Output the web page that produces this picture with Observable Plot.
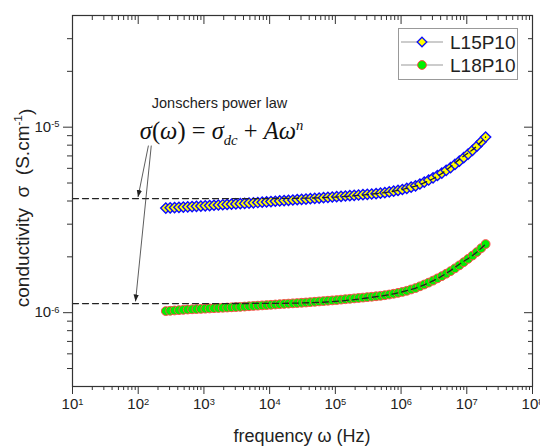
<!DOCTYPE html>
<html><head><meta charset="utf-8">
<script src="https://cdn.jsdelivr.net/npm/d3@7"></script>
<script src="https://cdn.jsdelivr.net/npm/@observablehq/plot@0.6"></script>
<style>body{margin:0;background:#fff}</style>
</head><body><div id="chart"></div>
<script>
// ---- data ----
const freq = [263, 306.6, 357.5, 416.8, 486.0, 566.6, 660.7, 770.3, 898.1, 1047, 1221, 1423, 1660, 1935, 2256,
  2630, 3066, 3575, 4168, 4860, 5666, 6607, 7703, 8981, 10470, 12210, 14230, 16600, 19350, 22560,
  26300, 30660, 35750, 41680, 48600, 56660, 66070, 77030, 89810, 104700, 122100, 142300, 166000, 193500, 225600,
  263000, 306600, 357500, 416800, 486000, 566600, 660700, 770300, 898100, 1047000, 1221000, 1423000, 1660000, 1935000, 2256000,
  2630000, 3066000, 3575000, 4168000, 4860000, 5666000, 6607000, 7703000, 8981000, 10470000, 12210000, 14230000, 16600000, 19350000];
// conductivity in units of 1e-6 S/cm
const sigmaL15 = [3.664,3.675,3.687,3.698,3.710,3.721,3.733,3.744,3.756,3.768,3.781,3.794,3.806,3.819,3.832,
  3.844,3.857,3.870,3.883,3.896,3.910,3.925,3.940,3.956,3.972,3.987,4.003,4.019,4.034,4.050,
  4.066,4.082,4.099,4.116,4.133,4.150,4.168,4.185,4.203,4.220,4.238,4.256,4.273,4.291,4.309,
  4.327,4.345,4.363,4.381,4.406,4.436,4.477,4.519,4.560,4.613,4.677,4.753,4.831,4.940,5.060,
  5.190,5.330,5.490,5.660,5.850,6.060,6.300,6.560,6.850,7.160,7.500,7.900,8.350,8.850];
const sigmaL18 = [1.020,1.024,1.028,1.032,1.036,1.040,1.043,1.046,1.048,1.051,1.054,1.057,1.060,1.063,1.066,
  1.069,1.072,1.075,1.079,1.083,1.087,1.091,1.095,1.099,1.103,1.107,1.111,1.115,1.119,1.123,
  1.127,1.131,1.135,1.140,1.145,1.150,1.155,1.160,1.165,1.170,1.176,1.182,1.188,1.194,1.200,
  1.206,1.213,1.219,1.226,1.233,1.242,1.253,1.265,1.279,1.294,1.312,1.334,1.358,1.387,1.419,
  1.452,1.489,1.531,1.574,1.622,1.675,1.734,1.799,1.871,1.950,2.032,2.123,2.228,2.344];
// Jonscher fit curves (dashed), units 1e-6 S/cm
const fitFreq = [10, 100, 1000, 10000, 30000, 100000, 300000, 1000000, 2000000, 4000000, 8000000, 14000000, 19350000];
const fitL15 = [4.12, 4.12, 4.12, 4.125, 4.14, 4.20, 4.33, 4.60, 4.93, 5.58, 6.78, 7.87, 8.85];
const fitL18 = [1.12, 1.12, 1.12, 1.122, 1.128, 1.15, 1.20, 1.29, 1.39, 1.56, 1.84, 2.11, 2.344];
const seriesNames = ["L15P10", "L18P10"];
const xTickExponents = [1, 2, 3, 4, 5, 6, 7, 8];
const yTickExponents = [-6, -5];
const UNIT = 1e-6;

// annotation anchors (data space)
const arrowsData = [
  {x1: 143, y1: 7.96e-6, x2: 99.3, y2: 4.2e-6},
  {x1: 158, y1: 7.96e-6, x2: 91, y2: 1.15e-6}
];
const FORMULA_KEY = "@@formula@@";
const noteTitle = [{x: 1726, y: 1.342e-5, text: "Jonschers power law"}];
const noteFormula = [{x: 1855, y: 9.52e-6, text: FORMULA_KEY}];

// ---- build ----
const l15 = freq.map((f, i) => ({f, s: sigmaL15[i] * UNIT}));
const l18 = freq.map((f, i) => ({f, s: sigmaL18[i] * UNIT}));
const f15 = fitFreq.map((f, i) => ({f, s: fitL15[i] * UNIT}));
const f18 = fitFreq.map((f, i) => ({f, s: fitL18[i] * UNIT}));

const xMajor = xTickExponents.map(e => 10 ** e);
const xMinor = xTickExponents.slice(0, -1).flatMap(e => [2,3,4,5,6,7,8,9].map(m => m * 10 ** e));
const yMajor = yTickExponents.map(e => 10 ** e);
const yMinor = [5e-7,6e-7,7e-7,8e-7,9e-7,2e-6,3e-6,4e-6,5e-6,6e-6,7e-6,8e-6,9e-6,2e-5,3e-5];
const fmtExp = d => "10^" + Math.round(Math.log10(d));

const diamond = {draw(ctx, size) {
  const r = Math.sqrt(size) * 0.62625;
  ctx.moveTo(0, -r); ctx.lineTo(r, 0); ctx.lineTo(0, r); ctx.lineTo(-r, 0); ctx.closePath();
}};

const axisCommon = {label: null, stroke: "#333", strokeWidth: 1, fontSize: 15};

const svg = Plot.plot({
  width: 540, height: 446,
  marginLeft: 72, marginRight: 8, marginTop: 15, marginBottom: 60,
  style: {fontFamily: "Liberation Sans, Arial, sans-serif", fontSize: "15px", color: "#222", background: "#fff"},
  x: {type: "log", domain: [10, 1e8], label: null},
  y: {type: "log", domain: [4e-7, 4e-5], label: null},
  marks: [
    Plot.line(l15, {x: "f", y: "s", stroke: "#0000ff", strokeWidth: 1}),
    Plot.dot(l15, {x: "f", y: "s", symbol: diamond, r: 4.6, fill: "#ffff00", stroke: "#0a0aff", strokeWidth: 1.4}),
    Plot.line(l18, {x: "f", y: "s", stroke: "#ff2020", strokeWidth: 1}),
    Plot.dot(l18, {x: "f", y: "s", r: 4.4, fill: "#00f000", stroke: "#ff4a4a", strokeWidth: 1}),
    Plot.line(f15, {x: "f", y: "s", stroke: "#222", strokeWidth: 1.3, strokeDasharray: "6,4", curve: "monotone-x"}),
    Plot.line(f18, {x: "f", y: "s", stroke: "#222", strokeWidth: 1.3, strokeDasharray: "6,4", curve: "monotone-x"}),
    Plot.link(arrowsData, {x1: "x1", y1: "y1", x2: "x2", y2: "y2", stroke: "#333", strokeWidth: 0.8}),
    Plot.text(noteTitle, {x: "x", y: "y", text: "text", fontSize: 14.5, fill: "#222", textAnchor: "middle"}),
    Plot.text(noteFormula, {x: "x", y: "y", text: "text", fontSize: 24.5, fill: "#111", textAnchor: "middle"}),
    Plot.axisX({...axisCommon, anchor: "bottom", ticks: xMajor, tickSize: 8, tickPadding: 4, tickFormat: fmtExp}),
    Plot.axisX({...axisCommon, anchor: "bottom", ticks: xMinor, tickSize: 4, tickFormat: () => ""}),
    Plot.axisX({...axisCommon, anchor: "top", ticks: xMajor, tickSize: -8, tickFormat: () => ""}),
    Plot.axisX({...axisCommon, anchor: "top", ticks: xMinor, tickSize: -4, tickFormat: () => ""}),
    Plot.axisY({...axisCommon, anchor: "left", ticks: yMajor, tickSize: 9, tickPadding: 4, tickFormat: fmtExp}),
    Plot.axisY({...axisCommon, anchor: "left", ticks: yMinor, tickSize: 5, tickFormat: () => ""}),
    Plot.axisY({...axisCommon, anchor: "right", ticks: yMajor, tickSize: -9, tickFormat: () => ""}),
    Plot.axisY({...axisCommon, anchor: "right", ticks: yMinor, tickSize: -5, tickFormat: () => ""}),
    Plot.frame({stroke: "#333", strokeWidth: 1.2})
  ]
});
document.getElementById("chart").appendChild(svg);

const S = d3.select(svg);
// arrowheads for the annotation links
const defs = S.insert("defs", ":first-child");
defs.append("marker").attr("id", "ahead").attr("viewBox", "0 0 10 10").attr("refX", 10).attr("refY", 5)
  .attr("markerWidth", 7).attr("markerHeight", 7).attr("markerUnits", "userSpaceOnUse").attr("orient", "auto")
  .append("path").attr("d", "M0,1.2L10,5L0,8.8Z").attr("fill", "#222");
S.selectAll('g[aria-label="link"] path').attr("marker-end", "url(#ahead)");

// superscript tick labels
S.selectAll('g[aria-label="x-axis tick label"] text, g[aria-label="y-axis tick label"] text').each(function() {
  const t = this.textContent;
  if (t.includes("^")) {
    const [b, e] = t.split("^");
    this.textContent = b;
    d3.select(this).append("tspan").attr("dy", "-0.5em").attr("font-size", "0.62em").text(e);
  }
});
// formula
S.selectAll("text").filter(function() { return this.textContent === FORMULA_KEY; }).each(function() {
  const t = d3.select(this);
  t.selectAll("*").remove();
  t.text(null).attr("font-family", "Liberation Serif, Times New Roman, serif").style("white-space", "pre");
  const parts = [
    ["σ", "italic", 0, 1], ["(", "normal", 0, 1], ["ω", "italic", 0, 1], [") = ", "normal", 0, 1],
    ["σ", "italic", 0, 1], ["dc", "italic", 6, 0.6], [" + ", "normal", -6, 1], ["A", "italic", 0, 1],
    ["ω", "italic", 0, 1], ["n", "italic", -9, 0.6]
  ];
  for (const [s, st, dy, sz] of parts) {
    const sp = t.append("tspan").attr("font-style", st).attr("dy", dy).text(s);
    if (sz !== 1) sp.attr("font-size", sz + "em");
  }
});
// axis titles
S.append("text").attr("x", (72 + 532) / 2).attr("y", 437).attr("text-anchor", "middle").attr("dominant-baseline", "middle")
  .attr("font-size", 18).attr("fill", "#222").style("white-space", "pre").text("frequency ω (Hz)");
const yl = S.append("text").attr("transform", "translate(24,208) rotate(-90)").attr("text-anchor", "middle")
  .attr("dominant-baseline", "middle").attr("font-size", 19).attr("fill", "#222").style("white-space", "pre");
yl.append("tspan").text("conductivity  σ  (S.cm");
yl.append("tspan").attr("dy", "-0.45em").attr("font-size", "0.62em").text("-1");
yl.append("tspan").attr("dy", "0.45em").text(")");
// legend
const lg = S.append("g").attr("font-size", 19).attr("fill", "#222").attr("text-anchor", "start");
lg.append("rect").attr("x", 398.5).attr("y", 28.5).attr("width", 119).attr("height", 51).attr("fill", "#fff").attr("stroke", "#999");
const legendRows = [
  {name: seriesNames[0], y: 42, kind: "diamond"},
  {name: seriesNames[1], y: 65, kind: "circle"}
];
for (const r of legendRows) {
  lg.append("line").attr("x1", 401).attr("x2", 443).attr("y1", r.y).attr("y2", r.y).attr("stroke", "#999").attr("stroke-width", 1.2);
  if (r.kind === "diamond") {
    lg.append("path").attr("d", `M422,${r.y - 4.8}L426.8,${r.y}L422,${r.y + 4.8}L417.2,${r.y}Z`).attr("fill", "#ffff00").attr("stroke", "#0a0aff").attr("stroke-width", 1.3);
  } else {
    lg.append("circle").attr("cx", 422).attr("cy", r.y).attr("r", 4.4).attr("fill", "#00f000").attr("stroke", "#ff4a4a");
  }
  lg.append("text").attr("x", 450).attr("y", r.y).attr("dy", "0.36em").attr("text-anchor", "start").text(r.name);
}
</script>
</body></html>
